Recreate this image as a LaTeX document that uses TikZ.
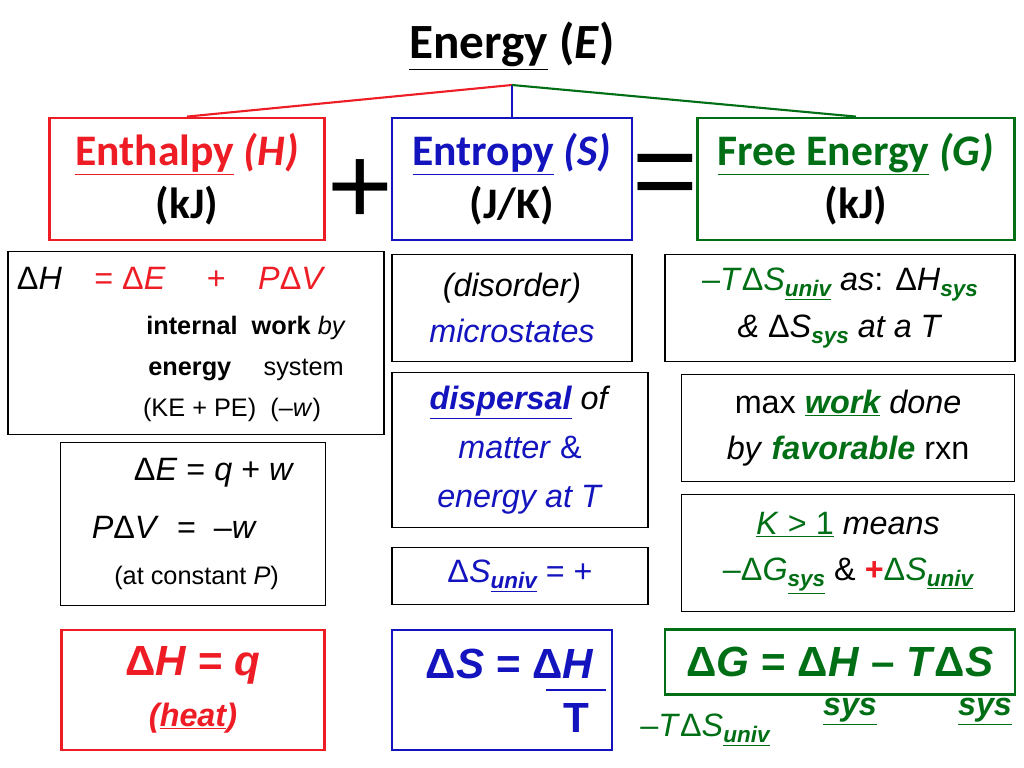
\documentclass[tikz,border=0pt]{standalone}
\usepackage{fontspec}
\setmainfont{Liberation Sans}
\newfontfamily\calib{Carlito}
\usetikzlibrary{positioning}
\definecolor{enthalpy}{RGB}{238,28,36}
\definecolor{entropy}{RGB}{20,20,190}
\definecolor{freeenergy}{RGB}{0,110,20}
\newcommand{\hd}{\fontsize{31}{38}\selectfont\calib\bfseries}
\newcommand{\bd}{\fontsize{23}{33}\selectfont}
\newcommand{\sm}{\fontsize{18}{29}\selectfont}
\newcommand{\bg}{\fontsize{30}{36}\selectfont\bfseries}
\newcommand{\sub}[1]{\raisebox{-0.35ex}{\fontsize{16}{16}\selectfont\bfseries\itshape #1}}
\newcommand{\usub}[1]{\raisebox{-0.35ex}{\fontsize{16}{16}\selectfont\bfseries\itshape\underline{#1}}}
\begin{document}
\begin{tikzpicture}[x=0.025cm,y=-0.025cm,
    box/.style={draw, line width=1pt, inner sep=0pt, align=center},
    head/.style={draw, line width=2pt, inner sep=0pt, align=center}]
  \useasboundingbox (0,0) rectangle (1024,768);
  % title and top boxes
  \node (energy) at (512,46) {\fontsize{35}{36}\selectfont\calib\bfseries \underline{Energy} (\textit{E})};
  \coordinate (hub) at (512,85);
  \node[head, draw=enthalpy, minimum width=275*0.025cm, minimum height=122*0.025cm, font=\hd] (enthalpy) at (187,179)
    {\textcolor{enthalpy}{\underline{Enthalpy} \textit{(H)}}\\(kJ)};
  \node[head, draw=entropy, minimum width=240*0.025cm, minimum height=122*0.025cm, font=\hd] (entropy) at (512,179)
    {\textcolor{entropy}{\underline{Entropy} \textit{(S)}}\\(J/K)};
  \node[head, draw=freeenergy, minimum width=317*0.025cm, minimum height=122*0.025cm, font=\hd] (free) at (856,179)
    {\textcolor{freeenergy}{\underline{Free Energy} \textit{(G)}}\\(kJ)};
  \draw[enthalpy, line width=1.5pt] (hub) -- (enthalpy.north);
  \draw[entropy, line width=1.5pt] (hub) -- (entropy.north);
  \draw[freeenergy, line width=1.5pt] (hub) -- (free.north);
  \node (plus) at (360,192) {\fontsize{80}{80}\selectfont +};
  \node (equal) at (665,182) {\fontsize{80}{80}\selectfont =};

  % enthalpy column
  \node[box, minimum width=376*0.025cm, minimum height=183*0.025cm] (dH) at (196,343) {};
  \node[anchor=north west, font=\bd] (dHeq) at (12,262) {Δ\textit{H}\quad\textcolor{enthalpy}{= Δ\textit{E} \quad+\quad \textit{P}Δ\textit{V}}};
  \node[align=center, font=\sm] (dHexp) at (232,369) {\hspace{20pt}\textbf{internal}\ \ \textbf{work} \textit{by}\\\hspace{20pt}\textbf{energy}\quad\ system\\(KE + PE)\ \ (–\textit{w})};
  \node[box, minimum width=265*0.025cm, minimum height=163*0.025cm, align=left, font=\bd] (dE) at (193,524)
    {\hspace{30pt}Δ\textit{E} = \textit{q} + \textit{w}\\[8pt]\textit{P}Δ\textit{V} \ = \ –\textit{w}\\\sm\hspace{16pt}(at constant \textit{P})};
  \node[head, draw=enthalpy, minimum width=263*0.025cm, minimum height=120*0.025cm, font=\bg, text=enthalpy] (dHq) at (193,690)
    {Δ\textit{H} = \textit{q}\\\fontsize{23}{24}\selectfont\textit{(\underline{heat})}};

  % entropy column
  \node[box, minimum width=240*0.025cm, minimum height=107*0.025cm, font=\bd] (disorder) at (512,308)
    {\textit{(disorder)}\\\textcolor{entropy}{\textit{microstates}}};
  \node[box, minimum width=256*0.025cm, minimum height=155*0.025cm, font=\bd] (dispersal) at (520,450)
    {\textit{\textcolor{entropy}{\textbf{\underline{dispersal}}} of}\\[2pt]\textcolor{entropy}{\textit{matter} \&}\\[2pt]\textcolor{entropy}{\textit{energy at T}}};
  \node[box, minimum width=256*0.025cm, minimum height=57*0.025cm, font=\bd, text=entropy] (suniv) at (520,576)
    {Δ\textit{S}\usub{univ} = +};
  \node[head, draw=entropy, minimum width=220*0.025cm, minimum height=120*0.025cm] (dS) at (502,690) {};
  \node[font=\bg, text=entropy] (dSeq) at (510,664) {Δ\textit{S} = Δ\textit{H}};
  \coordinate (barL) at (546,690);
  \coordinate (barR) at (606,690);
  \draw[entropy, line width=2pt] (barL) -- (barR);
  \node[font=\bg, text=entropy] (dST) at (576,718) {T};
  \node[font=\bd, text=freeenergy] (tsuniv) at (705,730) {–\textit{T}Δ\textit{S}\usub{univ}};

  % free energy column
  \node[box, minimum width=350*0.025cm, minimum height=107*0.025cm, font=\bd] (tds) at (840,308)
    {\textcolor{freeenergy}{–\textit{T}Δ\textit{S}\usub{univ}} \textit{as}: Δ\textit{H}\textcolor{freeenergy}{\sub{sys}}\\\textit{\& }Δ\textit{S}\textcolor{freeenergy}{\sub{sys}} \textit{at a T}};
  \node[box, minimum width=333*0.025cm, minimum height=107*0.025cm, font=\bd] (work) at (848,428)
    {max \textcolor{freeenergy}{\textbf{\textit{\underline{work}}}} \textit{done}\\\textit{by} \textcolor{freeenergy}{\textbf{\textit{favorable}}} rxn};
  \node[box, minimum width=333*0.025cm, minimum height=117*0.025cm, font=\bd] (keq) at (848,553)
    {\textcolor{freeenergy}{\underline{\textit{K} > 1}} \textit{means}\\\textcolor{freeenergy}{–Δ\textit{G}\usub{sys}} \& \textcolor{enthalpy}{\textbf{+}}\textcolor{freeenergy}{Δ\textit{S}\usub{univ}}};
  \node[head, draw=freeenergy, minimum width=350*0.025cm, minimum height=65*0.025cm, font=\bg, text=freeenergy] (dG) at (840,662)
    {Δ\textit{G} = Δ\textit{H} – \textit{T}Δ\textit{S}};
  \node[font=\bd\bfseries, text=freeenergy] (sysH) at (850,712) {\textit{\underline{sys}}};
  \node[font=\bd\bfseries, text=freeenergy] (sysS) at (985,712) {\textit{\underline{sys}}};
\end{tikzpicture}
\end{document}
